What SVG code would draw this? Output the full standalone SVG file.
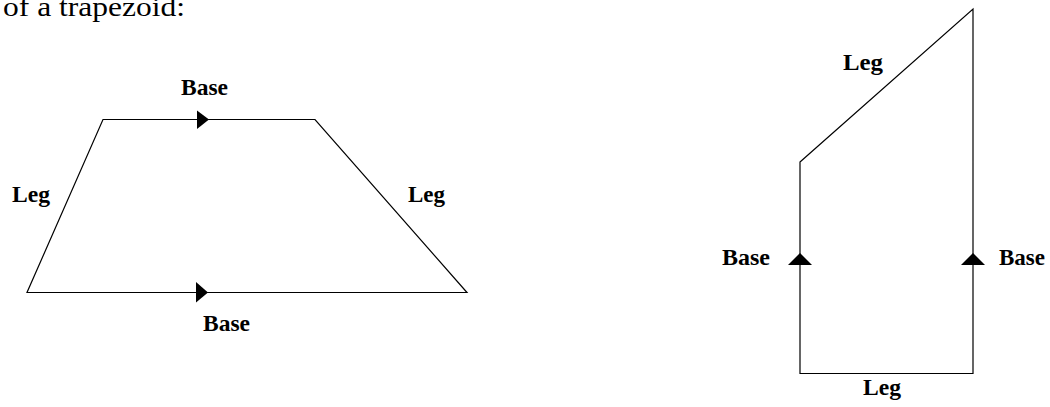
<svg xmlns="http://www.w3.org/2000/svg" width="1050" height="407" viewBox="0 0 1050 407">
<style>
.ln{fill:none;stroke:#000;stroke-width:1.2}
.ar{fill:#000;stroke:none}
.lb{font-family:"Liberation Serif","Times New Roman",serif;font-weight:bold;font-size:23px;fill:#000}
.tt{font-family:"Liberation Serif","Times New Roman",serif;font-size:27px;fill:#000}
</style>
<rect width="1050" height="407" fill="#fff"/>
<text class="tt" x="3" y="16" textLength="182" lengthAdjust="spacingAndGlyphs">of a trapezoid:</text>
<g id="connectors">
<g id="trap1-edges">
<polygon class="ln" points="103,119.5 315,119.5 467,292.5 27,292.5"/>
</g>
<g id="trap2-edges">
<polygon class="ln" points="800,162 973,9 973,373.5 800,373.5"/>
</g>
</g>
<g id="trap1">
<polygon class="ar" points="197,110.5 197,129 209,119.5"/>
<polygon class="ar" points="196,282 196,302.5 208,292.5"/>
<text class="lb" x="181" y="95" textLength="47" lengthAdjust="spacingAndGlyphs">Base</text>
<text class="lb" x="203" y="331" textLength="47" lengthAdjust="spacingAndGlyphs">Base</text>
<text class="lb" x="12" y="202" textLength="38" lengthAdjust="spacingAndGlyphs">Leg</text>
<text class="lb" x="408" y="202" textLength="37" lengthAdjust="spacingAndGlyphs">Leg</text>
</g>
<g id="trap2">
<polygon class="ar" points="788,265 812,265 800,253"/>
<polygon class="ar" points="961,265 985,265 973,253"/>
<text class="lb" x="722" y="265" textLength="48" lengthAdjust="spacingAndGlyphs">Base</text>
<text class="lb" x="999" y="265" textLength="46" lengthAdjust="spacingAndGlyphs">Base</text>
<text class="lb" x="843" y="70" textLength="40" lengthAdjust="spacingAndGlyphs">Leg</text>
<text class="lb" x="863" y="395" textLength="38" lengthAdjust="spacingAndGlyphs">Leg</text>
</g>
</svg>
